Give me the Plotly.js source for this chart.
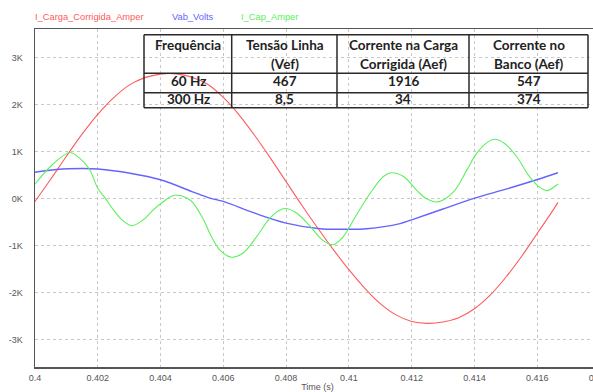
<!DOCTYPE html>
<html>
<head>
<meta charset="utf-8">
<script src="https://cdn.plot.ly/plotly-3.0.1.min.js"></script>
<style>
html,body{margin:0;padding:0;overflow:hidden;background:#fff;width:593px;height:392px;}
#chart{width:640px;height:392px;}
</style>
</head>
<body>
<div id="chart"></div>
<script>
// ---- data (time in s, values in A / V) ----
const seriesNames = ['I_Carga_Corrigida_Amper', 'Vab_Volts', 'I_Cap_Amper'];
const seriesColors = ['#ff5a5a', '#6464ff', '#5cf05c'];

const redT = [0.4000,0.4005,0.4010,0.4015,0.4020,0.4025,0.4030,0.4035,0.4040,0.4045,0.4050,0.4055,0.4060,0.4065,0.4070,0.4075,0.4080,0.4085,0.4090,0.4095,0.4100,0.4105,0.4110,0.4115,0.4120,0.4125,0.4130,0.4135,0.4140,0.4145,0.4150,0.4155,0.4160,0.4165,0.41666];
const redV = [-60,410,900,1370,1790,2140,2410,2570,2645,2650,2580,2430,2150,1780,1340,860,360,-140,-620,-1080,-1510,-1900,-2230,-2470,-2610,-2650,-2620,-2530,-2340,-2050,-1670,-1230,-740,-250,-80];

const blueT = [0.40000,0.40069,0.40150,0.40200,0.40303,0.40400,0.40500,0.40557,0.40600,0.40700,0.40800,0.40908,0.40980,0.41056,0.41163,0.41200,0.41300,0.41401,0.41500,0.41598,0.41666];
const blueV = [560,620,640,630,540,400,150,10,-60,-310,-520,-640,-650,-640,-530,-450,-220,10,200,400,550];

const greenT = [0.40000,0.40055,0.40111,0.40140,0.40173,0.40200,0.40225,0.40250,0.40277,0.40308,0.40345,0.40372,0.40400,0.40446,0.40494,0.40537,0.40560,0.40590,0.40626,0.40664,0.40707,0.40749,0.40781,0.40800,0.40834,0.40877,0.40914,0.40949,0.40983,0.41015,0.41047,0.41079,0.41110,0.41136,0.41174,0.41217,0.41249,0.41284,0.41334,0.41376,0.41408,0.41440,0.41466,0.41498,0.41535,0.41572,0.41604,0.41631,0.41666];
const greenV = [310,720,980,870,630,220,0,-240,-450,-575,-450,-270,-110,70,-30,-450,-780,-1100,-1245,-1150,-800,-410,-240,-210,-310,-590,-870,-980,-800,-450,-100,220,470,550,470,170,-10,-70,150,610,970,1190,1260,1160,890,500,260,170,310];

const xTickVals = [0.4,0.402,0.404,0.406,0.408,0.41,0.412,0.414,0.416,0.418];
const xTickText = ['0.4','0.402','0.404','0.406','0.408','0.41','0.412','0.414','0.416','0.418'];
const yTickVals = [-3000,-2000,-1000,0,1000,2000,3000];
const yTickText = ['-3K','-2K','-1K','0K','1K','2K','3K'];

const tableHeaders = ['Frequência', 'Tensão Linha<br>(Vef)', 'Corrente na Carga<br>Corrigida (Aef)', 'Corrente no<br>Banco (Aef)'];
const tableRow1 = ['60 Hz', '467', '1916', '547'];
const tableRow2 = ['300 Hz', '8,5', '34', '374'];

// ---- layout geometry (pixels) ----
const W = 640, H = 392;
const plotL = 35, plotR = 600, plotT = 29, plotB = 367.3;
const px = x => (x - plotL) / (plotR - plotL);
const py = y => (plotB - y) / (plotB - plotT);

const traces = [[redT, redV], [blueT, blueV], [greenT, greenV]].map((s, i) => ({
  x: s[0], y: s[1], type: 'scatter', mode: 'lines', name: seriesNames[i],
  line: {color: seriesColors[i], width: i === 1 ? 1.4 : 1.1, shape: 'spline', smoothing: 1},
  hoverinfo: 'skip'
}));

const shapes = [];
const annotations = [];
const lineStyle = {color: '#2a2a2a', width: 1.5};
const colX = [144, 231.7, 337, 469, 588];
const rowY = [34.7, 73.3, 92.7, 107.7];
colX.forEach(x => shapes.push({type: 'line', xref: 'paper', yref: 'paper', x0: px(x), x1: px(x), y0: py(rowY[0]), y1: py(rowY[rowY.length - 1]), line: lineStyle, layer: 'above'}));
rowY.forEach(y => shapes.push({type: 'line', xref: 'paper', yref: 'paper', x0: px(colX[0]), x1: px(colX[colX.length - 1]), y0: py(y), y1: py(y), line: lineStyle, layer: 'above'}));

const tFont = {family: 'Lato, "Open Sans", sans-serif', size: 13.5, color: '#222'};
function cellText(txt, cx, cy) {
  annotations.push({xref: 'paper', yref: 'paper', x: px(cx), y: py(cy), text: '<b>' + txt + '</b>', showarrow: false, xanchor: 'center', yanchor: 'middle', font: tFont});
}
const colC = [188, 284.5, 403, 528.5];
tableHeaders.forEach((h, i) => {
  const lines = h.split('<br>');
  lines.forEach((l, j) => cellText(l, colC[i], 45 + j * 18.6));
});
tableRow1.forEach((t, i) => cellText(t, colC[i], 81));
tableRow2.forEach((t, i) => cellText(t, colC[i], 99.5));

// legend as coloured texts
const legX = [33, 170, 239];
seriesNames.forEach((n, i) => annotations.push({xref: 'paper', yref: 'paper', x: px(legX[i]), y: py(17), text: n, showarrow: false, xanchor: 'left', yanchor: 'middle', font: {family: 'Liberation Sans, Arial, sans-serif', size: 9.3, color: seriesColors[i]}}));

const axFont = {family: 'Liberation Sans, Arial, sans-serif', size: 9, color: '#555'};
const layout = {
  width: W, height: H,
  margin: {l: plotL, r: W - plotR, t: plotT, b: H - plotB},
  paper_bgcolor: '#fff', plot_bgcolor: '#fff',
  showlegend: false,
  xaxis: {
    range: [0.4, 0.418], tickvals: xTickVals, ticktext: xTickText,
    showgrid: true, gridcolor: '#c8c8c8', griddash: 'dot', gridwidth: 1,
    zeroline: false, showline: true, linecolor: '#555', linewidth: 1.5, mirror: true,
    ticks: '', tickfont: axFont, ticklabelstandoff: 2,
    title: {text: 'Time (s)', font: axFont, standoff: 3}
  },
  yaxis: {
    range: [-3577, 3603], tickvals: yTickVals, ticktext: yTickText,
    showgrid: true, gridcolor: '#c8c8c8', griddash: 'dot', gridwidth: 1,
    zeroline: false, showline: true, linecolor: '#555', linewidth: 1.5, mirror: true,
    ticks: '', tickfont: axFont, ticklabelstandoff: 9
  },
  shapes: shapes,
  annotations: annotations
};

Plotly.newPlot('chart', traces, layout, {displayModeBar: false, staticPlot: true});
</script>
</body>
</html>
